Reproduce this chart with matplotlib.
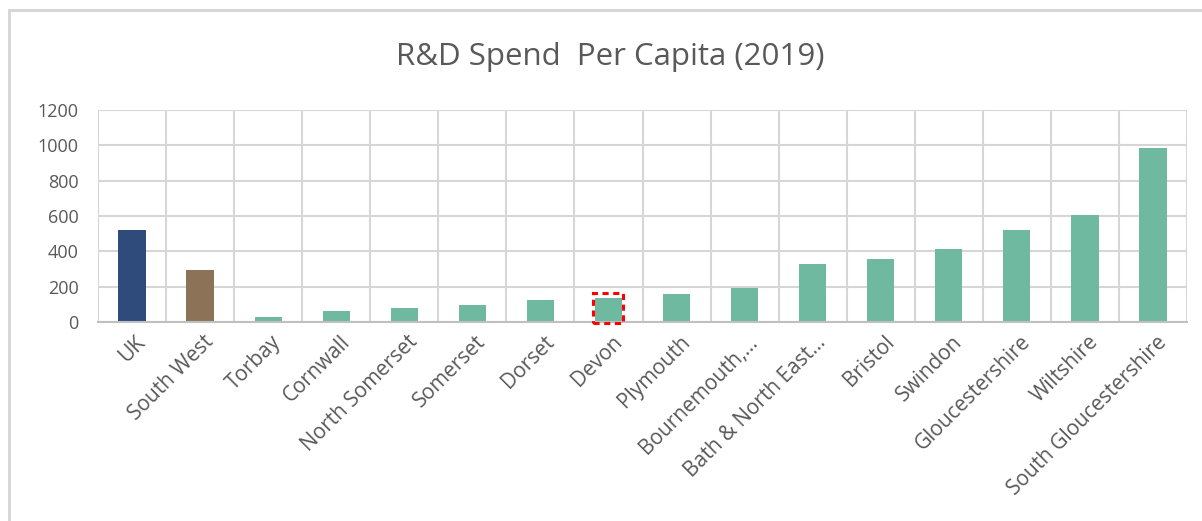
import numpy as np
import matplotlib
matplotlib.use("Agg")
import matplotlib.pyplot as plt
import matplotlib.transforms as mtransforms
from matplotlib.patches import Rectangle

# R&D spend per head, 2019 (GBP)
areas = ['UK', 'South West', 'Torbay', 'Cornwall', 'North Somerset', 'Somerset',
         'Dorset', 'Devon', 'Plymouth', 'Bournemouth,...', 'Bath & North East...',
         'Bristol', 'Swindon', 'Gloucestershire', 'Wiltshire', 'South Gloucestershire']
spend = [520, 295, 30, 60, 80, 95, 123, 135, 160, 195, 327, 355, 415, 519, 607, 985]
yticks = [0, 200, 400, 600, 800, 1000, 1200]

highlight = 'Devon'

navy = '#2f4b7c'
brown = '#8c7358'
teal = '#70b9a1'
grid_col = '#d6d6d6'
text_col = '#595959'

plt.rcParams['font.family'] = ['Open Sans', 'DejaVu Sans']

fig = plt.figure(figsize=(12.02, 5.21), dpi=100)
ax = fig.add_axes([98 / 1202, 199 / 521, 1089 / 1202, 212 / 521])

x = np.arange(len(areas))
colors = [navy, brown] + [teal] * (len(areas) - 2)
ax.bar(x, spend, width=0.4, color=colors, zorder=3)

# dashed marker around the highlighted bar
i = areas.index(highlight)
ax.add_patch(Rectangle((i - 0.22, -8), 0.44, spend[i] + 38, fill=False,
                       edgecolor='red', linestyle=(0, (2, 1.5)), linewidth=2.2,
                       zorder=4, clip_on=False))

ax.set_xlim(-0.5, len(areas) - 0.5)
ax.set_ylim(0, 1200)
ax.set_yticks(yticks)
ax.set_xticks(x)
ax.set_xticklabels(areas, rotation=45, ha='right', rotation_mode='anchor',
                   fontsize=15, color=text_col)
ax.set_xticks(np.arange(-0.5, len(areas)), minor=True)
ax.tick_params(axis='y', labelsize=13, labelcolor=text_col, length=0, pad=14)
ax.tick_params(axis='x', which='both', length=0, pad=7)

# nudge the slanted labels so their ends sit just right of each bar
shift = mtransforms.ScaledTranslation(3 / 100, 0, fig.dpi_scale_trans)
for lab in ax.get_xticklabels():
    lab.set_transform(lab.get_transform() + shift)

ax.grid(axis='y', color=grid_col, linewidth=1.5, zorder=0)
ax.grid(axis='x', which='minor', color=grid_col, linewidth=1.5, zorder=0)
ax.grid(axis='x', which='major', visible=False)
for side in ['top', 'right', 'left']:
    ax.spines[side].set_visible(False)
ax.spines['bottom'].set_color('#c0c0c0')
ax.spines['bottom'].set_linewidth(1.5)
ax.spines['bottom'].set_zorder(3.5)

fig.text(0.508, 1 - 57 / 521, 'R&D Spend  Per Capita (2019)', ha='center', va='center',
         fontsize=22.5, color=text_col)

# chart area frame
fig.add_artist(Rectangle((9 / 1202, -0.05), 1.2, 1 - 10 / 521 + 0.05, fill=False,
                         edgecolor='#d4d4d4', linewidth=2, transform=fig.transFigure))

fig.savefig('out.png', dpi=100)
